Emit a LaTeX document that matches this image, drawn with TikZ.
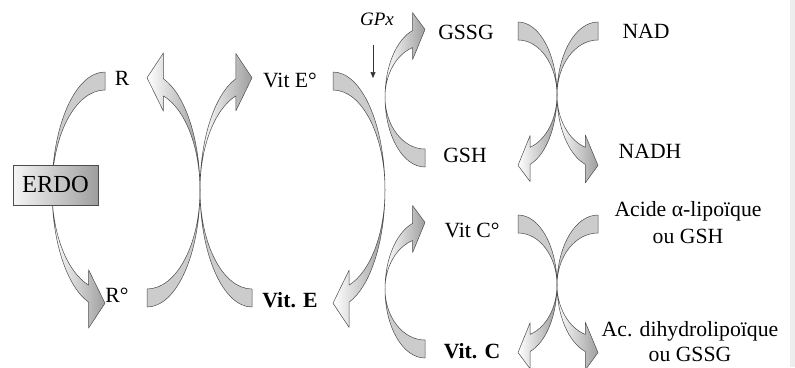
\documentclass[tikz,border=0pt]{standalone}
\usepackage{fontspec}
\setmainfont{Liberation Serif}
\usepackage{tikz}
\usetikzlibrary{arrows.meta}

% curved block arrow: centre, xscale, yscale, half width, outer half height
\newcommand{\curvarr}[5]{%
  \begin{scope}[shift={(#1)}, xscale=#2, yscale={-1*(#3)}]
    \pgfmathsetmacro{\ra}{#4}
    \pgfmathsetmacro{\rb}{#5}
    \pgfmathsetmacro{\ri}{#5-18}
    \pgfmathsetmacro{\rh}{0.31*#4}
    \pgfmathsetmacro{\rt}{180-acos(\rh/\ra)}
    \pgfmathsetmacro{\ro}{\rb*sin(\rt)}
    \pgfmathsetmacro{\rn}{\ri*sin(\rt)}
    \pgfmathsetmacro{\rup}{0.62*#4-7}
    \pgfmathsetmacro{\rdn}{0.25*#4+2}
    % back half
    \draw[arrback] (0,-\rb) arc[start angle=270, end angle=180, x radius=\ra, y radius=\rb]
      arc[start angle=180, end angle=270, x radius=\ra, y radius=\ri] -- cycle;
    % front half with head
    \draw[arrfront] (-\ra,0) arc[start angle=180, end angle=\rt, x radius=\ra, y radius=\rb]
      -- (-\rh,\ro+\rup) -- (0,\ro+1) -- (-\rh,\rn-\rdn) -- (-\rh,\rn)
      arc[start angle=\rt, end angle=180, x radius=\ra, y radius=\ri] -- cycle;
  \end{scope}}

\begin{document}
\begin{tikzpicture}[
    x=1pt, y=-1pt,
    arrback/.style={draw=black!70, line width=.5pt, line join=round, fill=black!20},
    arrfront/.style={draw=black!70, line width=.5pt, line join=round,
                     left color=white, right color=black!38},
    lbl/.style={font=\fontsize{21.7}{27}\selectfont, inner sep=0pt, anchor=base, align=center},
    lblbf/.style={lbl, font=\fontsize{21.7}{27}\selectfont\bfseries},
    box/.style={rectangle, draw=black!70, line width=.5pt, left color=black!4, right color=black!38,
                minimum width=85pt, minimum height=40pt, inner sep=0pt,
                font=\fontsize{24.5}{28}\selectfont},
    enz/.style={-{Triangle[width=5pt, length=6pt]}, draw=black!80, line width=.5pt}
]
\useasboundingbox[fill=white] (0,0) rectangle (795,367);
\fill[black!7] (790,0) rectangle (795,367);

% R and vitamin E
\curvarr{105,190}{1}{-1}{53}{118}
\curvarr{147,190}{-1}{1}{53}{117}
\curvarr{252,190}{1}{1}{52}{117}
\curvarr{333,190}{-1}{-1}{52}{118}
% glutathion
\curvarr{425,97}{1}{1}{40}{70}
\curvarr{518,95}{-1}{-1}{39}{73}
\curvarr{598,95}{1}{-1}{41}{73}
% vitamin C
\curvarr{425,289}{1}{1}{40}{69}
\curvarr{518,285}{-1}{-1}{39}{70}
\curvarr{598,285}{1}{-1}{41}{70}

\node[box] (erdo) at (55.5,185) {ERDO};
\node[lbl] (r) at (122,85) {R};
\node[lbl] (rrad) at (117,302) {R°};
\node[lbl] (vitErad) at (290,87) {Vit E°};
\node[lblbf] (vitE) at (290,307) {Vit. E};
\node[lbl, font=\fontsize{19}{22}\selectfont\itshape] (gpx) at (377,25) {GPx};
\node[lbl] (gssg) at (466,39) {GSSG};
\node[lbl] (gsh) at (465,162) {GSH};
\node[lbl] (nad) at (646,38) {NAD};
\node[lbl] (nadh) at (650,158) {NADH};
\node[lbl] (vitCrad) at (472,237) {Vit C°};
\node[lblbf] (vitC) at (472,358) {Vit. C};
\node[lbl] (lipo) at (688,243) {Acide α-lipoïque\\ou GSH};
\node[lbl, font=\fontsize{21.7}{25}\selectfont] (dihydro) at (690,361) {Ac. dihydrolipoïque\\ou GSSG};

\coordinate (gpxend) at (373,78);
\draw[enz, shorten <=20pt] (gpx.south -| gpxend) -- (gpxend);
\end{tikzpicture}
\end{document}
